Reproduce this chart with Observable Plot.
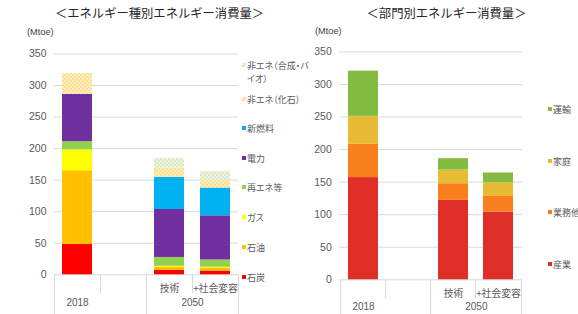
<!DOCTYPE html>
<html><head><meta charset="utf-8">
<script src="https://cdn.jsdelivr.net/npm/d3@7"></script>
<script src="https://cdn.jsdelivr.net/npm/@observablehq/plot@0.6"></script>
<style>
body{margin:0;background:#fff;}
#wrap{position:relative;width:578px;height:314px;overflow:hidden;font-family:"Liberation Sans","Noto Sans CJK JP",sans-serif;}
.abs{position:absolute;white-space:nowrap;line-height:1;}
.title{font-size:12.3px;color:#262626;transform:translate(-50%,-50%);font-family:"Noto Sans CJK JP",sans-serif;}
.unit{font-size:9.2px;color:#404040;transform:translateY(-50%);}
.leg{font-size:9px;color:#595959;font-feature-settings:"palt";font-family:"Noto Sans CJK JP",sans-serif;transform:translateY(-50%);}
svg.plot{position:absolute;top:0;}
</style></head>
<body><div id="wrap">
<svg width="0" height="0" style="position:absolute">
<defs>
<pattern id="patFossil" patternUnits="userSpaceOnUse" width="4" height="4">
<rect width="4" height="4" fill="#FCDF90"/>
<rect width="2" height="2" fill="#FDEDC0"/>
<rect x="2" y="2" width="2" height="2" fill="#FDEDC0"/>
</pattern>
<pattern id="patBio" patternUnits="userSpaceOnUse" width="4" height="4">
<rect width="4" height="4" fill="#D8E8C2"/>
<rect width="2" height="2" fill="#EEF4E2"/>
<rect x="2" y="2" width="2" height="2" fill="#EEF4E2"/>
</pattern>
</defs>
</svg>
</div>
<script>
// ---------- data ----------
const categories = ["2018", "_", "技術", "+社会変容"];
const groupLabels = ["2018", "2050"];
const yTicks = [0, 50, 100, 150, 200, 250, 300, 350];

const energyTypes = ["石炭", "石油", "ガス", "再エネ等", "電力", "新燃料", "非エネ（化石）", "非エネ（合成・バイオ）"];
const energy2018   = [48, 117, 33, 13, 75, 0, 33, 0];
const energyTech   = [7, 4.5, 2, 14, 76, 51, 15, 15];
const energySocial = [6, 4.5, 1.5, 11.5, 70, 44, 12.5, 13.5];
const energyColors = ["#FF0000", "#FFC000", "#FFFF00", "#92D050", "#7030A0", "#00B0F0", "url(#patFossil)", "url(#patBio)"];

const sectorTypes  = ["産業", "業務他", "家庭", "運輸"];
const sector2018   = [157, 51, 43, 69.5];
const sectorTech   = [122, 25.5, 21, 17.5];
const sectorSocial = [104, 24, 21, 15];
const sectorColors = ["#E02F28", "#FA7F1E", "#E8BB35", "#84BC41"];

const titles = ["＜エネルギー種別エネルギー消費量＞", "＜部門別エネルギー消費量＞"];
const unitLabel = "(Mtoe)";

// ---------- helpers ----------
const wrap = document.getElementById("wrap");
function div(cls, html, left, top) {
  const d = document.createElement("div");
  d.className = "abs " + cls;
  d.innerHTML = html;
  d.style.left = left + "px";
  d.style.top = top + "px";
  wrap.appendChild(d);
  return d;
}
function swatch(color, left, top) {
  const ns = "http://www.w3.org/2000/svg";
  const s = document.createElementNS(ns, "svg");
  s.setAttribute("width", 4); s.setAttribute("height", 4);
  s.style.position = "absolute"; s.style.left = left + "px"; s.style.top = (top - 2) + "px";
  const r = document.createElementNS(ns, "rect");
  r.setAttribute("width", 4); r.setAttribute("height", 4); r.setAttribute("fill", color);
  s.appendChild(r); wrap.appendChild(s);
}

function chart({series, values, colors, width, ml, mr, mt, mb, left, labelPad, groupDy}) {
  const height = 314;
  const rows = [];
  categories.forEach((c, i) => {
    if (values[i]) series.forEach((s, j) => rows.push({cat: c, series: s, value: values[i][j]}));
  });
  const step = (width - ml - mr) / categories.length;
  const frameH = height - mt - mb;
  const sep = {stroke: "#D9D9D9", strokeOpacity: 1, insetTop: frameH};
  const p = Plot.plot({
    width, height, marginTop: mt, marginBottom: mb, marginLeft: ml, marginRight: mr,
    x: {domain: categories, paddingInner: 0.34, paddingOuter: 0.17},
    y: {domain: [0, 350]},
    color: {domain: series, range: colors},
    style: {fontFamily: '"Liberation Sans","Noto Sans CJK JP",sans-serif', background: "transparent", overflow: "visible"},
    marks: [
      Plot.gridY(yTicks, {stroke: "#D9D9D9", strokeOpacity: 1}),
      Plot.barY(rows, {x: "cat", y: "value", fill: "series"}),
      Plot.axisY({ticks: yTicks, tickSize: 0, tickPadding: 8, fontSize: 10.5, fill: "#595959", label: null}),
      Plot.axisX({tickSize: 0, tickPadding: labelPad, fontSize: 9.8, fill: "#595959", label: null,
        tickFormat: d => (d === "_" || d === groupLabels[0]) ? "" : d,
        fontFamily: '"Noto Sans CJK JP",sans-serif'}),
      Plot.ruleX([categories[0], categories[2]], {x: d => d, dx: -step / 2, ...sep, insetBottom: -mb}),
      Plot.ruleX([categories[3]], {x: d => d, dx: step / 2, ...sep, insetBottom: -mb}),
      Plot.ruleX([categories[1], categories[3]], {x: d => d, dx: -step / 2, ...sep, insetBottom: -19}),
      Plot.text([groupLabels[0]], {x: d => d, text: d => d, frameAnchor: "bottom", dy: groupDy, fontSize: 10, fill: "#595959"}),
      Plot.text([groupLabels[1]], {x: () => categories[2], text: d => d, frameAnchor: "bottom", dy: groupDy, dx: step / 2, fontSize: 10, fill: "#595959"})
    ]
  });
  p.classList.add("plot");
  p.style.left = left + "px";
  wrap.appendChild(p);
}

// ---------- left chart ----------
chart({series: energyTypes, values: [energy2018, null, energyTech, energySocial], colors: energyColors,
  width: 290, ml: 54, mr: 52, mt: 53.5, mb: 39.7, left: 0, labelPad: 10, groupDy: 31.5});
// ---------- right chart ----------
chart({series: sectorTypes, values: [sector2018, null, sectorTech, sectorSocial], colors: sectorColors,
  width: 288, ml: 49.3, mr: 55.7, mt: 51.4, mb: 34.7, left: 290, labelPad: 10, groupDy: 30.5});

// titles & units
div("title", titles[0], 159.5, 13);
div("title", titles[1], 446.5, 13.3);
div("unit", unitLabel, 27, 33);
div("unit", unitLabel, 315, 32);

// left legend (top to bottom = reversed stack order)
const leftLegendY = [65, 98.7, 128, 157.5, 187, 217, 247, 277];
energyTypes.slice().reverse().forEach((name, i) => {
  const idx = energyTypes.indexOf(name);
  const y = leftLegendY[i];
  swatch(energyColors[idx], 241.5, y);
  if (name === "非エネ（合成・バイオ）") {
    div("leg", "非エネ（合成・バ", 247, y);
    div("leg", "イオ）", 247, y + 12.5);
  } else {
    div("leg", name, 247, y);
  }
});
// right legend
const rightLegendY = [109.3, 161, 212.3, 263.5];
sectorTypes.slice().reverse().forEach((name, i) => {
  const idx = sectorTypes.indexOf(name);
  swatch(sectorColors[idx], 548, rightLegendY[i]);
  div("leg", name, 553, rightLegendY[i]);
});
</script>
</body></html>
